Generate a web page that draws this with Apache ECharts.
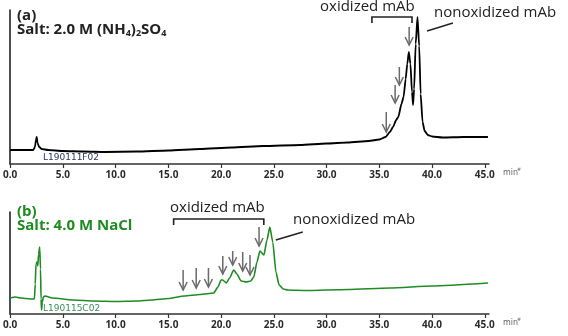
<!DOCTYPE html>
<html><head><meta charset="utf-8">
<script src="https://cdn.jsdelivr.net/npm/echarts@6/dist/echarts.min.js"></script>
<style>html,body{margin:0;padding:0;background:#fff}#c{width:568px;height:336px}</style>
</head><body><div id="c"></div>
<script>
const tickValues = [0, 5, 10, 15, 20, 25, 30, 35, 40, 45];
// Panel (a): retention time (min) and detector signal
const timeA = [0, 1, 2.2, 2.35, 2.45, 2.52, 2.6, 2.75, 3.0, 3.6, 5, 7, 9, 12, 15, 18, 21, 24, 27.5, 30, 32, 34, 35, 35.6, 36, 36.3, 36.6, 36.8, 37.1, 37.3, 37.5, 37.65, 37.8, 37.95, 38.1, 38.2, 38.3, 38.45, 38.62, 38.78, 38.92, 39.1, 39.3, 39.6, 40, 41, 43, 45.3];
const signalA = [14, 14, 14, 17, 24, 27, 21, 17, 15, 14, 13, 12.5, 12, 12.5, 13.5, 15, 16.5, 18, 19, 20.5, 21.5, 23, 24.5, 27, 32, 37, 44, 47, 60, 67, 85, 100, 112, 100, 72, 59, 75, 120, 147, 118, 70, 42, 33, 29, 27.5, 26.5, 27, 27];
// Panel (b)
const timeB = [0, 0.5, 1.0, 1.5, 2.0, 2.3, 2.38, 2.45, 2.55, 2.62, 2.7, 2.8, 2.88, 2.93, 2.98, 3.05, 3.15, 3.3, 4, 6, 8, 10, 12, 13.4, 15, 16.5, 18, 19.3, 19.7, 20.0, 20.15, 20.5, 20.8, 21.2, 21.5, 21.9, 22.4, 22.8, 23.1, 23.4, 23.68, 24.06, 24.35, 24.62, 24.9, 25.2, 25.5, 25.9, 26.3, 28, 32, 36, 40, 45.3];
const signalB = [16, 17, 16, 15.5, 15, 15, 30, 50, 52, 48, 60, 67, 45, 15, 4, 12, 17, 18, 16, 14, 13, 12.5, 13, 14, 15.5, 18, 19.5, 21, 27, 34, 34, 31, 36, 44, 40, 33, 32, 33, 37, 52, 63, 59, 74, 87, 72, 42, 29, 25, 24, 23.5, 24.5, 26, 28, 31];
// Annotations: arrows [time, top signal, tip signal]
const arrowsA = [[35.66, 52, 32], [36.5, 79, 61], [36.9, 97, 79], [37.83, 137, 119]];
const arrowsB = [[16.4, 44, 24], [17.64, 46, 26], [18.8, 46, 27], [20.16, 58, 40], [21.1, 63, 49], [22.05, 62, 43], [22.74, 59, 39], [23.6, 87, 68]];
// brackets [t start, t end, signal]
const bracketA = [[34.3, 38.1, 147]];
const bracketB = [[15.5, 24.05, 95]];
// leader lines [t1, s1, t2, s2]
const leaderA = [[39.53, 133, 41.98, 141]];
const leaderB = [[25.19, 74, 27.74, 82]];

const zip = (a, b) => a.map((v, i) => [v, b[i]]);
const chart = echarts.init(document.getElementById('c'), null, {renderer: 'canvas'});
const FONT = '"Open Sans", "DejaVu Sans", sans-serif';
const GREEN = '#1e8c22';

function xAxisCfg(gi) {
  return {
    type: 'value', gridIndex: gi, min: 0, max: 45.4,
    axisLine: {show: true, lineStyle: {color: '#333', width: 1.5}},
    axisTick: {show: true, length: 4, customValues: tickValues, lineStyle: {color: '#333', width: 1.2}},
    axisLabel: {show: true, customValues: tickValues, margin: 6, color: '#2a2a2a', fontSize: 10, fontWeight: 'bold', fontFamily: FONT,
      formatter: v => v.toFixed(1)},
    splitLine: {show: false}
  };
}
function yAxisCfg(gi, max) {
  return {
    type: 'value', gridIndex: gi, min: 0, max: max,
    axisLine: {show: true, lineStyle: {color: '#222', width: 1.6}},
    axisTick: {show: false}, axisLabel: {show: false}, splitLine: {show: false}
  };
}
function arrowSeries(gi, data) {
  return {
    type: 'custom', xAxisIndex: gi, yAxisIndex: gi, data: data, clip: false, silent: true,
    renderItem: (params, api) => {
      const p1 = api.coord([api.value(0), api.value(1)]);
      const p2 = api.coord([api.value(0), api.value(2)]);
      return {type: 'group', children: [
        {type: 'line', shape: {x1: p1[0], y1: p1[1], x2: p2[0], y2: p2[1]}, style: {stroke: '#6a6a6a', lineWidth: 1.5}},
        {type: 'polyline', shape: {points: [[p2[0] - 4, p2[1] - 8], [p2[0], p2[1]], [p2[0] + 4, p2[1] - 8]]}, style: {stroke: '#6a6a6a', lineWidth: 1.5, fill: null}}
      ]};
    }
  };
}
function bracketSeries(gi, data) {
  return {
    type: 'custom', xAxisIndex: gi, yAxisIndex: gi, data: data, clip: false, silent: true,
    renderItem: (params, api) => {
      const p1 = api.coord([api.value(0), api.value(2)]);
      const p2 = api.coord([api.value(1), api.value(2)]);
      return {type: 'polyline', shape: {points: [[p1[0], p1[1] + 6], [p1[0], p1[1]], [p2[0], p2[1]], [p2[0], p2[1] + 6]]}, style: {stroke: '#222', lineWidth: 1.6, fill: null}};
    }
  };
}
function leaderSeries(gi, data) {
  return {
    type: 'custom', xAxisIndex: gi, yAxisIndex: gi, data: data, clip: false, silent: true,
    renderItem: (params, api) => {
      const p1 = api.coord([api.value(0), api.value(1)]);
      const p2 = api.coord([api.value(2), api.value(3)]);
      return {type: 'line', shape: {x1: p1[0], y1: p1[1], x2: p2[0], y2: p2[1]}, style: {stroke: '#222', lineWidth: 1.6}};
    }
  };
}
function txt(x, y, text, opts) {
  return {type: 'text', x: x, y: y, style: Object.assign({text: text, fill: '#222', font: '15px ' + FONT}, opts || {})};
}

const sub = {fontSize: 9, fontWeight: 'bold', fontFamily: FONT, verticalAlign: 'bottom', padding: [7, 0, 0, 0]};
chart.setOption({
  animation: false,
  backgroundColor: '#fff',
  grid: [
    {left: 8, top: 10, width: 481, height: 154},
    {left: 8, top: 212, width: 481, height: 102}
  ],
  xAxis: [xAxisCfg(0), xAxisCfg(1)],
  yAxis: [yAxisCfg(0, 154), yAxisCfg(1, 102)],
  series: [
    {type: 'line', xAxisIndex: 0, yAxisIndex: 0, data: zip(timeA, signalA), showSymbol: false, smooth: 0.2, smoothMonotone: 'x', lineStyle: {color: '#000', width: 1.8}, clip: false},
    {type: 'line', xAxisIndex: 1, yAxisIndex: 1, data: zip(timeB, signalB), showSymbol: false, smooth: 0.2, smoothMonotone: 'x', lineStyle: {color: GREEN, width: 1.6}, clip: false},
    arrowSeries(0, arrowsA), arrowSeries(1, arrowsB),
    bracketSeries(0, bracketA), bracketSeries(1, bracketB),
    leaderSeries(0, leaderA), leaderSeries(1, leaderB)
  ],
  graphic: [
    txt(17, 8, '(a)', {font: 'bold 15px ' + FONT}),
    {type: 'text', x: 17, y: 22, style: {text: 'Salt: 2.0 M (NH{s|4}){s|2}SO{s|4}', fill: '#222', font: 'bold 15px ' + FONT,
      rich: {s: Object.assign({fill: '#222'}, sub)}}},
    txt(17, 204, '(b)', {font: 'bold 15px ' + FONT, fill: GREEN}),
    txt(17, 218, 'Salt: 4.0 M NaCl', {font: 'bold 15px ' + FONT, fill: GREEN}),
    txt(320, -1, 'oxidized mAb'),
    txt(434, 5, 'nonoxidized mAb'),
    txt(170, 200, 'oxidized mAb'),
    txt(293, 212, 'nonoxidized mAb'),
    txt(43, 153, 'L190111F02', {font: '9px "DejaVu Sans", sans-serif', fill: '#2e3560'}),
    txt(43, 304, 'L190115C02', {font: '9px "DejaVu Sans", sans-serif', fill: '#3a8f5a'}),
    txt(503, 169, 'min', {font: '8px "DejaVu Sans", sans-serif', fill: '#666'}),
    txt(517, 167, '#', {font: '5px "DejaVu Sans", sans-serif', fill: '#666'}),
    txt(503, 319, 'min', {font: '8px "DejaVu Sans", sans-serif', fill: '#666'}),
    txt(517, 317, '#', {font: '5px "DejaVu Sans", sans-serif', fill: '#666'})
  ]
});
</script></body></html>
